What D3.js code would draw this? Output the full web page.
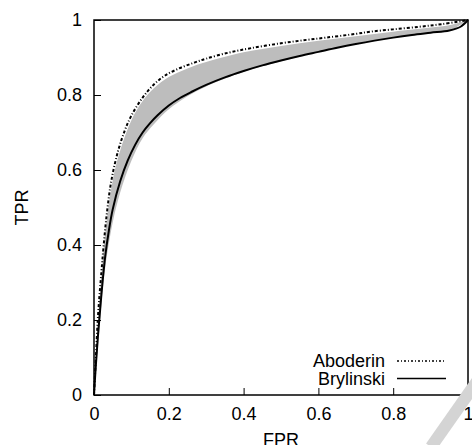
<!DOCTYPE html>
<html>
<head>
<meta charset="utf-8">
<script src="https://cdn.jsdelivr.net/npm/d3@7"></script>
<style>
  body { margin: 0; background: #fff; }
  text { font-family: "Liberation Sans", Arial, sans-serif; }
</style>
</head>
<body>
<div id="chart"></div>
<script>
const width = 472
const height = 445
const margin = {
    top: 20,
    bottom: 50,
    left: 94,
    right: 4
}

// datos
const xTicks = [0, 0.2, 0.4, 0.6, 0.8, 1]
const yTicks = [0, 0.2, 0.4, 0.6, 0.8, 1]

const brylinskiFpr = [0, 0.005, 0.01, 0.015, 0.02, 0.03, 0.04, 0.05, 0.07, 0.09, 0.11, 0.13, 0.15, 0.17, 0.2, 0.23, 0.26, 0.3, 0.35, 0.4, 0.45, 0.5, 0.55, 0.6, 0.65, 0.7, 0.75, 0.8, 0.85, 0.9, 0.95, 0.98, 1]
const brylinskiTpr = [0, 0.08, 0.15, 0.21, 0.27, 0.37, 0.44, 0.495, 0.57, 0.625, 0.667, 0.7, 0.725, 0.746, 0.772, 0.792, 0.808, 0.827, 0.847, 0.864, 0.879, 0.892, 0.904, 0.915, 0.926, 0.936, 0.945, 0.953, 0.96, 0.966, 0.972, 0.982, 1]

const aboderinFpr = [0, 0.005, 0.01, 0.015, 0.02, 0.025, 0.035, 0.047, 0.065, 0.083, 0.1, 0.13, 0.16, 0.19, 0.23, 0.27, 0.3, 0.36, 0.42, 0.5, 0.56, 0.62, 0.7, 0.74, 0.8, 0.87, 0.93, 1]
const aboderinTpr = [0, 0.1, 0.2, 0.27, 0.33, 0.39, 0.49, 0.575, 0.653, 0.707, 0.745, 0.793, 0.828, 0.852, 0.872, 0.887, 0.897, 0.913, 0.925, 0.938, 0.946, 0.953, 0.963, 0.969, 0.975, 0.982, 0.989, 1]

// banda gris (curvas aleatorias)
const bandFpr = [0, 0.01, 0.02, 0.03, 0.05, 0.07, 0.1, 0.13, 0.16, 0.2, 0.25, 0.3, 0.4, 0.5, 0.6, 0.7, 0.8, 0.9, 0.95, 1]
const bandUpper = [0, 0.19, 0.32, 0.43, 0.572, 0.652, 0.733, 0.784, 0.818, 0.848, 0.871, 0.888, 0.914, 0.931, 0.945, 0.957, 0.969, 0.98, 0.986, 1]
const bandLower = [0, 0.12, 0.245, 0.34, 0.46, 0.54, 0.625, 0.685, 0.722, 0.762, 0.797, 0.823, 0.862, 0.89, 0.915, 0.936, 0.953, 0.966, 0.972, 1]

const series = [
    {name: "Aboderin", fpr: aboderinFpr, tpr: aboderinTpr, dash: "3,2,1,2"},
    {name: "Brylinski", fpr: brylinskiFpr, tpr: brylinskiTpr, dash: null}
]

const svg = d3.select("#chart").append("svg").attr("width", width).attr("height", height)
const w = width - margin.left - margin.right
const h = height - margin.top - margin.bottom
const elementGroup = svg.append("g").attr("transform", `translate(${margin.left}, ${margin.top})`)
const axisGroup = svg.append("g")
const xAxisGroup = axisGroup.append("g").attr("transform", `translate(${margin.left}, ${height - margin.bottom})`)
const yAxisGroup = axisGroup.append("g").attr("transform", `translate(${margin.left}, ${margin.top})`)

// escalas:
const x = d3.scaleLinear().domain([0, 1]).range([0, w])
const y = d3.scaleLinear().domain([0, 1]).range([h, 0])

const xAxis = d3.axisBottom(x).tickValues(xTicks).tickFormat(d => d).tickSize(-7).tickPadding(12)
const yAxis = d3.axisLeft(y).tickValues(yTicks).tickFormat(d => d).tickSize(-7).tickPadding(12)

xAxisGroup.call(xAxis)
yAxisGroup.call(yAxis)
axisGroup.selectAll(".domain").remove()
axisGroup.selectAll("text").attr("font-size", 18).attr("fill", "#000")
    .attr("font-family", "'Liberation Sans', Arial, sans-serif")
axisGroup.selectAll(".tick line").attr("stroke", "#000")

// banda gris
const band = bandFpr.map((f, i) => ({f: f, lo: bandLower[i], hi: bandUpper[i]}))
elementGroup.append("path")
    .datum(band)
    .attr("d", d3.area().x(d => x(d.f)).y0(d => y(d.lo)).y1(d => y(d.hi)).curve(d3.curveCatmullRom.alpha(0.5)))
    .attr("fill", "#bdbdbd")

// curvas
const line = d3.line().x(d => x(d[0])).y(d => y(d[1])).curve(d3.curveCatmullRom.alpha(0.5))
series.forEach(s => {
    elementGroup.append("path")
        .datum(s.fpr.map((f, i) => [f, s.tpr[i]]))
        .attr("d", line)
        .attr("fill", "none")
        .attr("stroke", "#000")
        .attr("stroke-width", 2)
        .attr("stroke-dasharray", s.dash)
})

// marco
elementGroup.append("rect")
    .attr("width", w).attr("height", h)
    .attr("fill", "none").attr("stroke", "#000").attr("stroke-width", 1.5)

// leyenda
const legend = elementGroup.selectAll(".legend").data(series).enter().append("g")
    .attr("transform", (d, i) => `translate(0, ${h - 34 + i * 17.5})`)
legend.append("text")
    .attr("x", 291).attr("y", 6)
    .attr("text-anchor", "end")
    .attr("font-size", 18)
    .text(d => d.name)
legend.append("line")
    .attr("x1", 303).attr("x2", 352)
    .attr("stroke", "#000").attr("stroke-width", 1.3)
    .attr("stroke-dasharray", d => d.dash ? "2,2,1,2" : null)

// titulos de ejes
svg.append("text")
    .attr("x", margin.left + w / 2).attr("y", 446)
    .attr("text-anchor", "middle").attr("font-size", 18)
    .text("FPR")
svg.append("text")
    .attr("transform", `translate(28, ${margin.top + h / 2}) rotate(-90)`)
    .attr("text-anchor", "middle").attr("font-size", 18)
    .text("TPR")

// marca de agua
svg.append("line")
    .attr("x1", 478).attr("y1", 380).attr("x2", 431).attr("y2", 447)
    .attr("stroke", "#d4d4d4").attr("stroke-width", 12)
</script>
</body>
</html>
